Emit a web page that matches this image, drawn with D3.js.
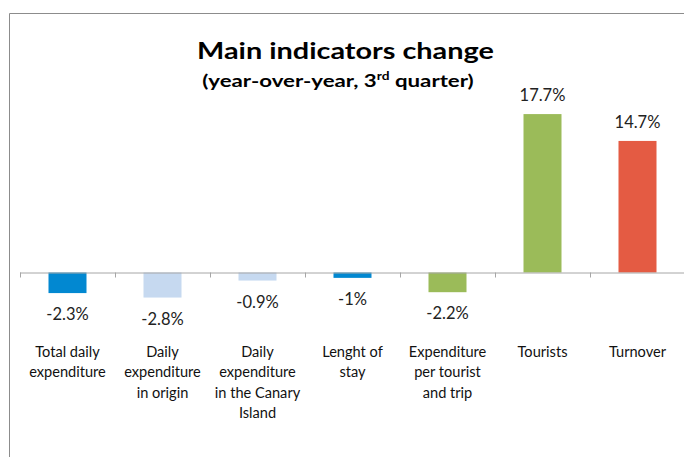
<!DOCTYPE html>
<html>
<head>
<meta charset="utf-8">
<script src="https://cdn.jsdelivr.net/npm/d3@7"></script>
<style>
  body { margin: 0; background: #fff; }
  svg text { font-family: Lato, "Open Sans", sans-serif; }
</style>
</head>
<body>
<div id="chart"></div>
<script>
// category labels, already split into lines like the original
let categories = [
    ["Total daily", "expenditure"],
    ["Daily", "expenditure", "in origin"],
    ["Daily", "expenditure", "in the Canary", "Island"],
    ["Lenght of", "stay"],
    ["Expenditure", "per tourist", "and trip"],
    ["Tourists"],
    ["Turnover"]
];
// bar heights as drawn (the "-1%" bar is visibly shorter than -0.9)
let values = [-2.3, -2.8, -0.9, -0.6, -2.2, 17.7, 14.7];
let valueLabels = ["-2.3%", "-2.8%", "-0.9%", "-1%", "-2.2%", "17.7%", "14.7%"];
let colors = ["#0288D1", "#C6D9F0", "#C6D9F0", "#0288D1", "#9BBB59", "#9BBB59", "#E45B43"];

let width = 684, height = 457;

let svg = d3.select("#chart")
    .append("svg")
    .attr("width", width)
    .attr("height", height);

// chart frame (only top and left edges are visible)
svg.append("path")
    .attr("d", "M9.5," + height + "V13.5H" + width)
    .attr("fill", "none")
    .attr("stroke", "#8c8c8c")
    .attr("stroke-width", 1);

// x scale by category index
let x = d3.scaleBand()
    .domain(d3.range(categories.length))
    .range([20, 685])
    .paddingInner(0)
    .paddingOuter(0);

// y scale in percent
let y0 = 272.5;
let y = d3.scaleLinear()
    .domain([-20, 20])
    .range([y0 + 179, y0 - 179]);

// bars
let barW = 38;
svg.selectAll("rect.bar")
    .data(values)
    .enter()
    .append("rect")
    .attr("class", "bar")
    .attr("x", (d, i) => x(i) + x.bandwidth() / 2 - barW / 2)
    .attr("y", d => Math.min(y(d), y(0)))
    .attr("width", barW)
    .attr("height", d => Math.abs(y(d) - y(0)))
    .attr("fill", (d, i) => colors[i]);

// zero axis with tick marks between categories
svg.append("line")
    .attr("x1", 20).attr("x2", width)
    .attr("y1", y(0) + 0.5).attr("y2", y(0) + 0.5)
    .attr("stroke", "#a6a6a6");

let tickPos = d3.range(categories.length + 1).map(i => 20 + i * x.bandwidth());
svg.selectAll("line.tick")
    .data(tickPos)
    .enter()
    .append("line")
    .attr("class", "tick")
    .attr("x1", d => Math.round(d) + 0.5).attr("x2", d => Math.round(d) + 0.5)
    .attr("y1", y(0)).attr("y2", y(0) + 5)
    .attr("stroke", "#a6a6a6");

// value labels
svg.selectAll("text.val")
    .data(values)
    .enter()
    .append("text")
    .attr("class", "val")
    .attr("x", (d, i) => x(i) + x.bandwidth() / 2)
    .attr("y", d => d < 0 ? y(d) + 27 : y(d) - 13)
    .attr("text-anchor", "middle")
    .attr("font-size", "16.5px")
    .attr("fill", "#222")
    .text((d, i) => valueLabels[i]);

// category labels
let cat = svg.selectAll("text.cat")
    .data(categories)
    .enter()
    .append("text")
    .attr("class", "cat")
    .attr("text-anchor", "middle")
    .attr("font-size", "14.6px")
    .attr("fill", "#111");

cat.selectAll("tspan")
    .data((d, i) => d.map(line => ({ line: line, i: i })))
    .enter()
    .append("tspan")
    .attr("x", d => x(d.i) + x.bandwidth() / 2)
    .attr("y", (d, j) => 357 + j * 20.3)
    .text(d => d.line);

// title, stretched to the width of the original
let titleG = svg.append("g");
let title = titleG.append("text")
    .attr("text-anchor", "middle")
    .attr("font-size", "23px")
    .attr("font-weight", "bold")
    .attr("fill", "#000")
    .text("Main indicators change");
let tw = title.node().getBBox().width;
titleG.attr("transform", "translate(345.5,59) scale(" + (297 / tw) + ",1)");

let subG = svg.append("g");
let sub = subG.append("text")
    .attr("text-anchor", "middle")
    .attr("font-size", "17px")
    .attr("font-weight", "bold")
    .attr("fill", "#000");
sub.append("tspan").text("(year-over-year, 3");
sub.append("tspan").attr("font-size", "10.5px").attr("dy", -7).text("rd");
sub.append("tspan").attr("dy", 7).text(" quarter)");
let sw = sub.node().getBBox().width;
subG.attr("transform", "translate(338,87) scale(" + (272 / sw) + ",1)");
</script>
</body>
</html>
